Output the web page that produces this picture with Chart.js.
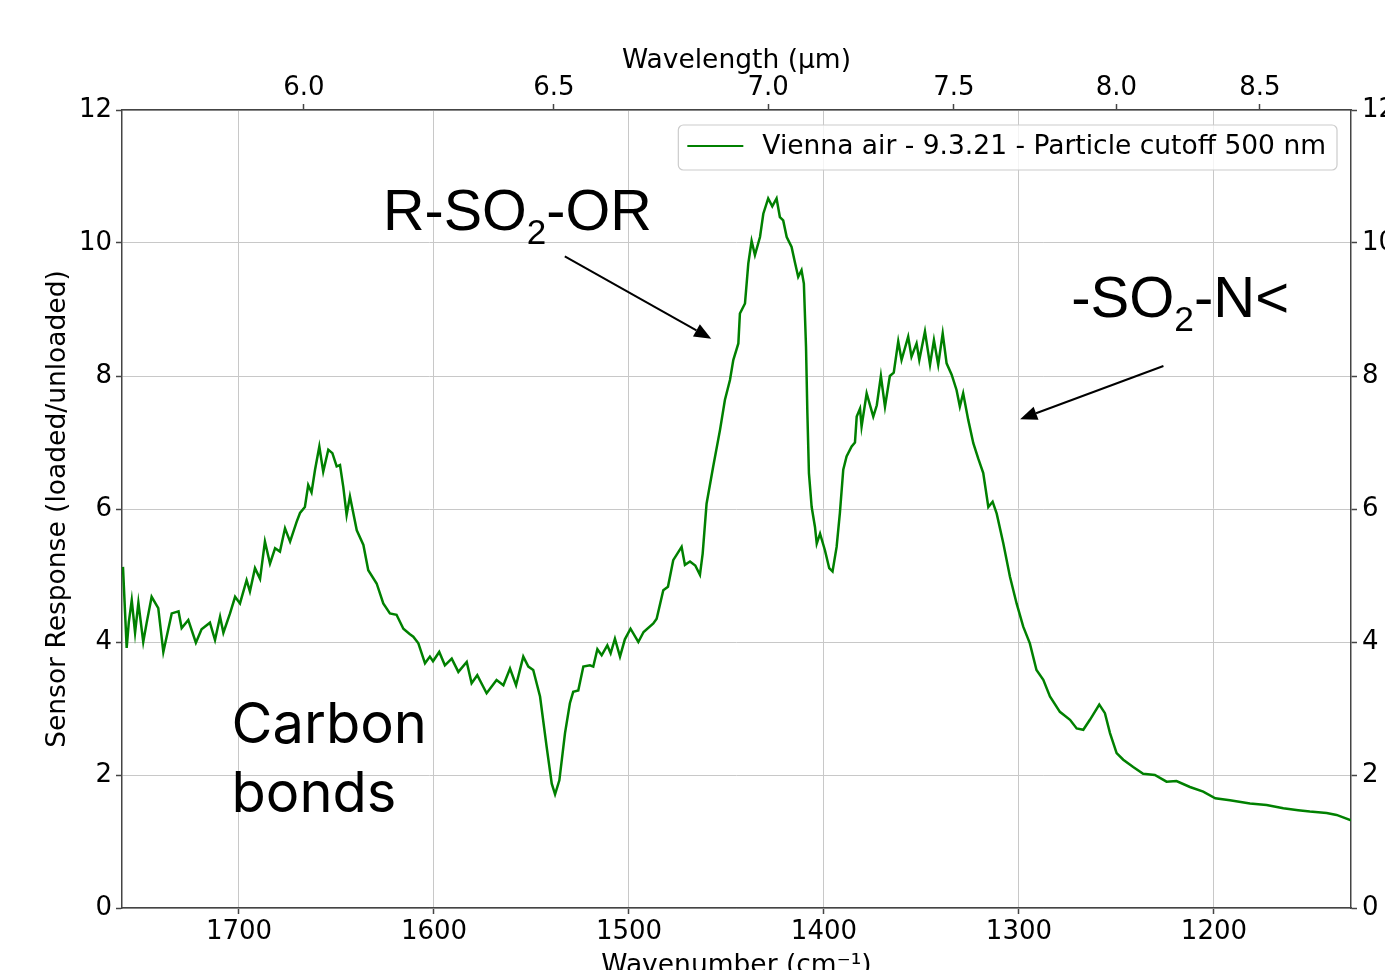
<!DOCTYPE html>
<html>
<head>
<meta charset="utf-8">
<title>Vienna air - sensor response</title>
<script src="https://cdn.jsdelivr.net/npm/chart.js@4.4.0/dist/chart.umd.min.js"></script>
<style>
  html, body { margin: 0; padding: 0; background: #fff; overflow: hidden; }
  #wrap { width: 1385px; height: 970px; overflow: hidden; }
</style>
</head>
<body>
<div id="wrap"><canvas id="grafico" width="1420" height="1000"></canvas></div>
<script>
// values (wavenumber in cm-1, response loaded/unloaded)
const wavenumber = [
  1759.5, 1757.6, 1756.5, 1755.0, 1753.3, 1751.6, 1749.1, 1747.4, 1744.8, 1741.4,
  1738.8, 1734.5, 1731.0, 1729.4, 1726.0, 1722.1, 1719.2, 1714.9, 1712.3, 1709.7,
  1708.0, 1704.6, 1702.0, 1699.5, 1696.1, 1694.4, 1691.8, 1689.2, 1686.7, 1684.1,
  1681.5, 1679.0, 1676.4, 1673.8, 1670.4, 1668.7, 1666.2, 1664.5, 1662.8, 1661.0,
  1658.8, 1656.8, 1654.2, 1652.1, 1649.9, 1648.2, 1646.5, 1644.8, 1643.1, 1639.6,
  1636.2, 1633.7, 1629.4, 1626.0, 1622.6, 1619.2, 1615.7, 1612.5, 1610.6, 1608.0,
  1604.6, 1602.1, 1600.5, 1597.3, 1594.4, 1590.9, 1587.5, 1583.2, 1580.7, 1577.8,
  1573.0, 1567.9, 1564.4, 1561.0, 1557.9, 1554.2, 1551.6, 1549.1, 1545.6, 1542.2,
  1539.6, 1537.9, 1535.7, 1532.8, 1530.3, 1528.6, 1526.0, 1523.4, 1520.0, 1518.3,
  1516.2, 1514.0, 1511.1, 1509.4, 1507.2, 1504.6, 1502.1, 1499.2, 1495.2, 1492.5,
  1487.5, 1485.8, 1482.4, 1480.0, 1477.3, 1473.0, 1471.3, 1468.7, 1466.0, 1463.6,
  1462.2, 1460.2, 1456.8, 1453.3, 1450.8, 1448.2, 1446.5, 1443.9, 1443.1, 1440.5,
  1438.8, 1437.1, 1435.4, 1432.8, 1431.1, 1428.6, 1426.5, 1424.3, 1422.6, 1420.9,
  1419.1, 1416.6, 1414.9, 1413.2, 1411.5, 1410.3, 1409.2, 1408.5, 1407.7, 1406.3,
  1404.6, 1403.7, 1402.0, 1399.5, 1397.3, 1395.6, 1393.5, 1391.8, 1390.1, 1388.4,
  1385.8, 1384.1, 1383.2, 1381.5, 1380.7, 1378.1, 1374.7, 1372.9, 1370.8, 1368.7,
  1366.2, 1364.2, 1361.9, 1360.2, 1356.8, 1355.1, 1352.5, 1351.1, 1348.2, 1345.6,
  1343.6, 1341.4, 1339.1, 1337.1, 1334.5, 1332.0, 1330.3, 1328.6, 1326.0, 1323.4,
  1320.9, 1318.3, 1315.7, 1313.5, 1311.4, 1308.0, 1304.6, 1301.2, 1297.8, 1294.4,
  1291.0, 1287.5, 1284.1, 1279.0, 1273.8, 1270.4, 1267.0, 1263.6, 1258.8, 1255.9,
  1253.3, 1249.9, 1246.5, 1241.4, 1236.3, 1230.3, 1224.3, 1219.2, 1212.3, 1205.5,
  1199.3, 1191.8, 1181.5, 1173.0, 1164.4, 1156.8, 1150.8, 1142.2, 1137.1, 1129.7
]
const response = [
  5.13, 3.91, 4.30, 4.63, 4.14, 4.59, 4.00, 4.28, 4.68, 4.51,
  3.85, 4.43, 4.46, 4.21, 4.33, 3.99, 4.19, 4.29, 4.03, 4.38,
  4.14, 4.43, 4.68, 4.58, 4.93, 4.76, 5.11, 4.95, 5.51, 5.18,
  5.41, 5.36, 5.71, 5.51, 5.81, 5.94, 6.03, 6.36, 6.25, 6.59,
  6.94, 6.56, 6.89, 6.84, 6.64, 6.66, 6.33, 5.91, 6.19, 5.68,
  5.46, 5.08, 4.88, 4.58, 4.43, 4.41, 4.20, 4.12, 4.08, 3.98,
  3.68, 3.78, 3.71, 3.85, 3.65, 3.75, 3.55, 3.70, 3.38, 3.50,
  3.23, 3.43, 3.35, 3.60, 3.35, 3.78, 3.63, 3.58, 3.18, 2.42,
  1.87, 1.71, 1.92, 2.63, 3.08, 3.25, 3.27, 3.63, 3.65, 3.63,
  3.89, 3.80, 3.95, 3.83, 4.05, 3.78, 4.04, 4.20, 4.00, 4.15,
  4.28, 4.35, 4.78, 4.83, 5.23, 5.43, 5.16, 5.21, 5.15, 5.01,
  5.33, 6.08, 6.64, 7.19, 7.64, 7.94, 8.24, 8.49, 8.94, 9.09,
  9.69, 10.03, 9.82, 10.09, 10.44, 10.67, 10.55, 10.67, 10.39, 10.34,
  10.09, 9.94, 9.71, 9.49, 9.59, 9.39, 8.44, 7.44, 6.54, 6.03,
  5.73, 5.48, 5.63, 5.38, 5.11, 5.06, 5.43, 5.95, 6.59, 6.79,
  6.94, 7.00, 7.39, 7.51, 7.24, 7.74, 7.39, 7.56, 8.00, 7.54,
  8.00, 8.05, 8.52, 8.24, 8.59, 8.29, 8.49, 8.24, 8.67, 8.17,
  8.54, 8.17, 8.64, 8.19, 8.02, 7.79, 7.54, 7.74, 7.34, 6.99,
  6.76, 6.54, 6.03, 6.11, 5.93, 5.48, 4.98, 4.58, 4.23, 3.98,
  3.58, 3.43, 3.18, 2.95, 2.83, 2.70, 2.68, 2.83, 3.06, 2.93,
  2.63, 2.33, 2.23, 2.12, 2.02, 2.00, 1.90, 1.91, 1.82, 1.75,
  1.65, 1.62, 1.57, 1.55, 1.50, 1.47, 1.45, 1.43, 1.40, 1.32
]

const serieLabel = "Vienna air - 9.3.21 - Particle cutoff 500 nm"
const wavenumberTicks = [1700, 1600, 1500, 1400, 1300, 1200]
const wavelengthTicks = [6.0, 6.5, 7.0, 7.5, 8.0, 8.5]
const responseTicks = [0, 2, 4, 6, 8, 10, 12]

const verde = "#008000"
const eixo = "#444444"
const grade = "#c8c8c8"
const fonteTitulo = { size: 26.5 }

Chart.defaults.font.family = "'DejaVu Sans', sans-serif"
Chart.defaults.font.size = 26
Chart.defaults.color = "#000"

// labels drawn like matplotlib annotate(), anchored in data units
const notas = [
  { parts: [["R-SO"], ["2", true], ["-OR"]], x: 1626.1, y: 10.2, size: 57.5, font: "'Liberation Sans', Arial" },
  { parts: [["-SO"], ["2", true], ["-N<"]], x: 1273.2, y: 8.89, size: 58, font: "'Liberation Sans', Arial" },
  { parts: [["Carbon"]], x: 1703.8, y: 2.48, size: 56, font: "Inter, 'Liberation Sans'" },
  { parts: [["bonds"]], x: 1703.8, y: 1.45, size: 56, font: "Inter, 'Liberation Sans'" }
]
const setas = [
  { from: [1532.9, 9.80], to: [1457.8, 8.56] },
  { from: [1225.9, 8.15], to: [1299.4, 7.35] }
]

const notasPlugin = {
  id: "notas",
  afterDraw(chart) {
    const ctx = chart.ctx
    const sx = chart.scales.x
    const sy = chart.scales.y
    ctx.save()
    ctx.fillStyle = "#000"
    ctx.textBaseline = "alphabetic"
    ctx.textAlign = "left"
    notas.forEach((n) => {
      let px = sx.getPixelForValue(n.x)
      const py = sy.getPixelForValue(n.y)
      n.parts.forEach(([t, sub]) => {
        ctx.font = (sub ? n.size * 0.61 : n.size) + "px " + n.font
        ctx.fillText(t, px, sub ? py + n.size * 0.25 : py)
        px += ctx.measureText(t).width
      })
    })
    ctx.strokeStyle = "#000"
    ctx.lineWidth = 2
    setas.forEach((s) => {
      const x1 = sx.getPixelForValue(s.from[0])
      const y1 = sy.getPixelForValue(s.from[1])
      const x2 = sx.getPixelForValue(s.to[0])
      const y2 = sy.getPixelForValue(s.to[1])
      const ang = Math.atan2(y2 - y1, x2 - x1)
      const len = 17
      const half = 7
      const bx = x2 - len * Math.cos(ang)
      const by = y2 - len * Math.sin(ang)
      ctx.beginPath()
      ctx.moveTo(x1, y1)
      ctx.lineTo(bx, by)
      ctx.stroke()
      ctx.beginPath()
      ctx.moveTo(x2, y2)
      ctx.lineTo(bx + half * Math.sin(ang), by - half * Math.cos(ang))
      ctx.lineTo(bx - half * Math.sin(ang), by + half * Math.cos(ang))
      ctx.closePath()
      ctx.fill()
    })
    ctx.restore()
  }
}

// matplotlib-like legend box, upper right
const legendaPlugin = {
  id: "legenda",
  afterDraw(chart) {
    const ctx = chart.ctx
    const area = chart.chartArea
    const ds = chart.data.datasets[0]
    ctx.save()
    ctx.font = "26.5px 'DejaVu Sans'"
    const tw = ctx.measureText(ds.label).width
    const w = 9 + 56 + 19 + tw + 11
    const h = 45
    const right = area.right - 14
    const left = right - w
    const top = area.top + 15
    ctx.beginPath()
    ctx.roundRect(left, top, w, h, 5)
    ctx.fillStyle = "rgba(255,255,255,0.8)"
    ctx.fill()
    ctx.strokeStyle = "#cccccc"
    ctx.lineWidth = 1.2
    ctx.stroke()
    const cy = top + 21
    ctx.strokeStyle = ds.borderColor
    ctx.lineWidth = 2
    ctx.beginPath()
    ctx.moveTo(left + 9, cy)
    ctx.lineTo(left + 65, cy)
    ctx.stroke()
    ctx.fillStyle = "#000"
    ctx.textBaseline = "middle"
    ctx.fillText(ds.label, left + 84, cy + 1)
    ctx.restore()
  }
}

const pontos = wavenumber.map((w, i) => ({ x: w, y: response[i] }))

new Chart(document.getElementById("grafico"), {
  type: "line",
  data: {
    datasets: [
      {
        label: serieLabel,
        data: pontos,
        borderColor: verde,
        borderWidth: 2.5,
        pointRadius: 0,
        tension: 0,
        fill: false
      }
    ]
  },
  options: {
    responsive: false,
    animation: false,
    devicePixelRatio: 1,
    layout: { padding: 0 },
    plugins: { legend: { display: false }, tooltip: { enabled: false } },
    scales: {
      x: {
        type: "linear",
        position: "bottom",
        reverse: true,
        min: 1129.7,
        max: 1760,
        afterBuildTicks: (s) => { s.ticks = wavenumberTicks.map((v) => ({ value: v })) },
        afterFit: (s) => { s.height = 92 },
        ticks: { padding: 3, callback: (v) => String(v) },
        grid: { color: grade, lineWidth: 1, tickColor: eixo, tickWidth: 1.5, tickLength: 6 },
        border: { color: eixo, width: 1.5 },
        title: { display: true, text: "Wavenumber (cm⁻¹)", font: fonteTitulo, padding: { top: 0, bottom: 18 } }
      },
      x2: {
        type: "linear",
        position: "top",
        reverse: true,
        min: 1129.7,
        max: 1760,
        afterBuildTicks: (s) => { s.ticks = wavelengthTicks.map((l) => ({ value: 10000 / l })) },
        afterFit: (s) => { s.height = 110 },
        ticks: { padding: 0, callback: (v) => (10000 / v).toFixed(1) },
        grid: { drawOnChartArea: false, tickColor: eixo, tickWidth: 1.5, tickLength: 6 },
        border: { color: eixo, width: 1.5 },
        title: { display: true, text: "Wavelength (μm)", font: fonteTitulo, padding: { top: 45, bottom: 0 } }
      },
      y: {
        type: "linear",
        position: "left",
        min: 0,
        max: 12,
        afterBuildTicks: (s) => { s.ticks = responseTicks.map((v) => ({ value: v })) },
        afterFit: (s) => { s.width = 122 },
        ticks: { padding: 4, callback: (v) => String(v) },
        grid: { color: grade, lineWidth: 1, tickColor: eixo, tickWidth: 1.5, tickLength: 6 },
        border: { color: eixo, width: 1.5 },
        title: { display: true, text: "Sensor Response (loaded/unloaded)", font: fonteTitulo, padding: { top: 42, bottom: 0 } }
      },
      y2: {
        type: "linear",
        position: "right",
        min: 0,
        max: 12,
        afterBuildTicks: (s) => { s.ticks = responseTicks.map((v) => ({ value: v })) },
        afterFit: (s) => { s.width = 69 },
        ticks: { padding: 5, callback: (v) => String(v) },
        grid: { drawOnChartArea: false, tickColor: eixo, tickWidth: 1.5, tickLength: 6 },
        border: { color: eixo, width: 1.5 }
      }
    }
  },
  plugins: [notasPlugin, legendaPlugin]
})
</script>
</body>
</html>
